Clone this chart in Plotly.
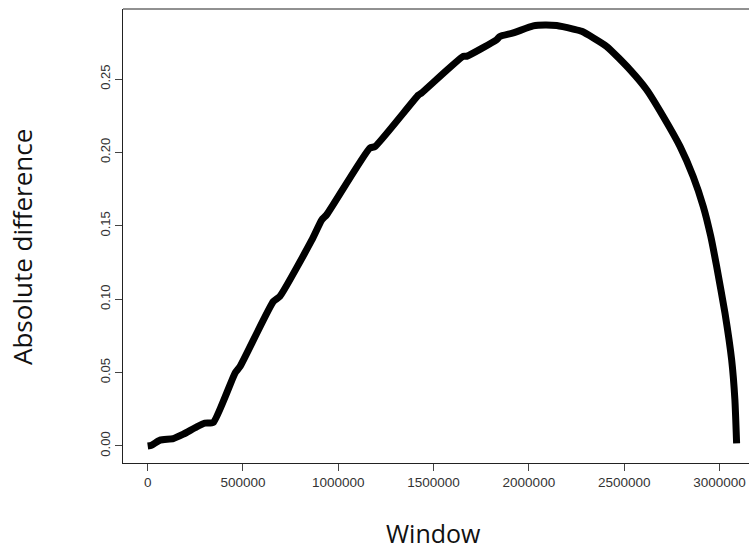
import plotly.graph_objects as go

window_pos = [0, 20000, 65000, 134000, 187000, 257000, 300000, 344000, 458000, 484000,
              659000, 694000, 860000, 913000, 939000, 1166000, 1193000, 1420000, 1437000,
              1656000, 1674000, 1831000, 1848000, 1918000, 2023000, 2085000, 2146000, 2233000,
              2277000, 2408000, 2530000, 2618000, 2705000, 2793000, 2862000, 2915000,
              2954000, 2985000, 3029000, 3064000, 3081000, 3090000]
abs_diff = [0.0, 0.0005, 0.004, 0.005, 0.008, 0.013, 0.0155, 0.016, 0.0496, 0.054,
            0.0984, 0.102, 0.140, 0.154, 0.1575, 0.203, 0.204, 0.239, 0.2405,
            0.2655, 0.2655, 0.2768, 0.279, 0.2814, 0.2862, 0.2868, 0.2864, 0.2840,
            0.2825, 0.2722, 0.2564, 0.2427, 0.2245, 0.2041, 0.1836, 0.1632,
            0.1430, 0.1225, 0.0905, 0.0586, 0.0314, 0.0018]

x_ticks = [0, 500000, 1000000, 1500000, 2000000, 2500000, 3000000]
y_ticks = [0.00, 0.05, 0.10, 0.15, 0.20, 0.25]

fig = go.Figure()
fig.add_trace(go.Scatter(x=window_pos, y=abs_diff, mode="lines",
                         line=dict(color="black", width=7, shape="spline", smoothing=0.5),
                         showlegend=False))

fig.update_layout(
    width=749, height=551,
    margin=dict(l=123, r=0, t=9, b=88),
    plot_bgcolor="white", paper_bgcolor="white",
    font=dict(family="Liberation Sans, Arial, sans-serif", color="#333"),
    xaxis=dict(range=[-129600, 3155000], tickvals=x_ticks, tickformat="d",
               showgrid=False, zeroline=False, showline=True, linecolor="#222",
               linewidth=1, ticks="outside", ticklen=7, tickcolor="#444",
               tickfont=dict(size=13.5)),
    yaxis=dict(range=[-0.0116, 0.2977], tickvals=y_ticks, tickformat=".2f",
               showgrid=False, zeroline=False, showline=True, linecolor="#222",
               linewidth=1, ticks="outside", ticklen=7, tickcolor="#444",
               tickangle=-90, tickfont=dict(size=13)),
    shapes=[dict(type="line", xref="paper", yref="paper", x0=0, x1=1, y0=1, y1=1,
                 line=dict(color="#222", width=1))],
    annotations=[
        dict(text="Window", xref="paper", yref="paper", x=(433 - 123) / 626, y=-70 / 454,
             showarrow=False, xanchor="center", yanchor="middle",
             font=dict(family="Open Sans", size=25, color="#111")),
        dict(text="Absolute difference", xref="paper", yref="paper",
             x=-(123 - 22) / 626, y=(463 - 247) / 454, textangle=-90,
             showarrow=False, xanchor="center", yanchor="middle",
             font=dict(family="Open Sans", size=26, color="#111")),
    ],
)

fig.write_html("out.html", config={"displayModeBar": False},
               post_script="document.body.style.margin='0';document.body.style.overflow='hidden';")
